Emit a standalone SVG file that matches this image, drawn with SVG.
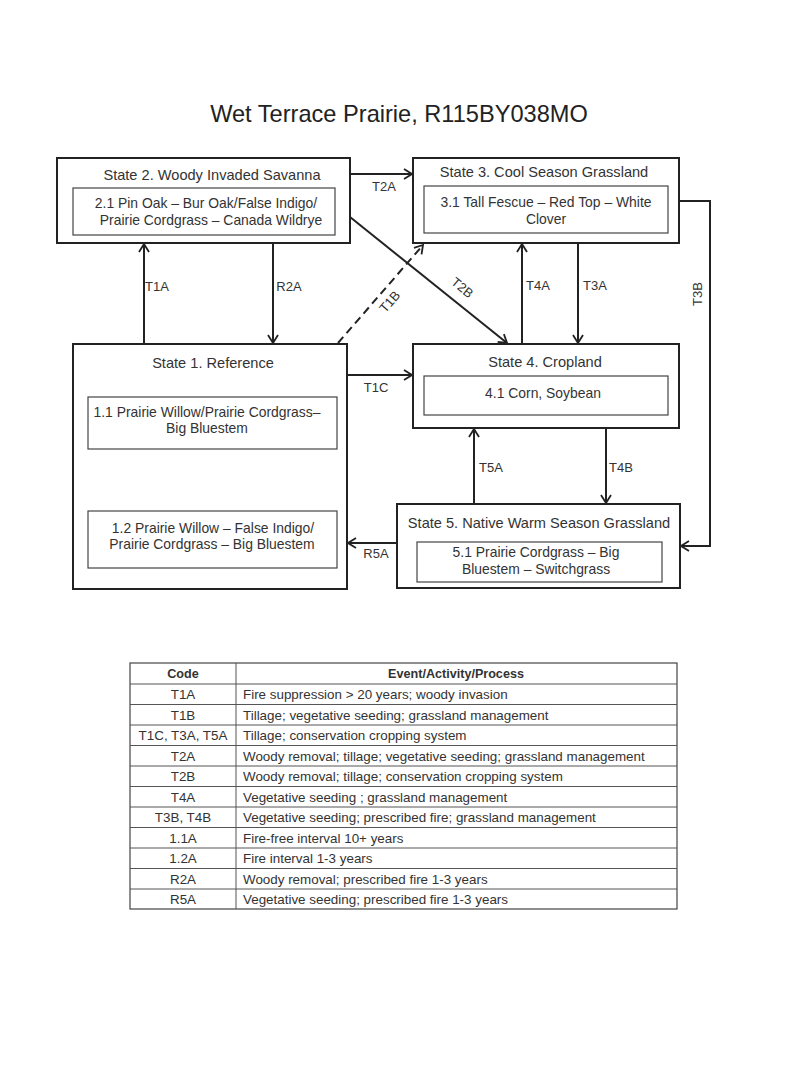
<svg xmlns="http://www.w3.org/2000/svg" width="800" height="1065" viewBox="0 0 800 1065">
<defs>
<style>
text{font-family:"Liberation Sans",Arial,sans-serif;fill:#333}
.title{font-size:23.6px;fill:#222;text-anchor:middle}
.st{font-size:14.6px;text-anchor:middle}
.in{font-size:13.9px;text-anchor:middle}
.lb{font-size:13px;text-anchor:middle}
.tb{font-size:13.4px}
.tc{font-size:13.4px;text-anchor:middle}
.th{font-size:12.6px;font-weight:bold;text-anchor:middle}
.outer{fill:#fff;stroke:#222;stroke-width:2}
.inner{fill:#fff;stroke:#444;stroke-width:1.2}
.c{fill:none;stroke:#222;stroke-width:2}
.cd{fill:none;stroke:#222;stroke-width:2;stroke-dasharray:8,5}
.ct{fill:none;stroke:#444;stroke-width:1.1}
.tl{stroke:#555;stroke-width:1}
</style>
<marker id="ah" viewBox="0 0 10 12" markerWidth="10" markerHeight="12" refX="9" refY="6" orient="auto" markerUnits="userSpaceOnUse">
<path d="M1,1 L9,6 L1,11" fill="none" stroke="#222" stroke-width="1.8"/>
</marker>
<marker id="ahs" viewBox="0 0 8 10" markerWidth="8" markerHeight="10" refX="7.5" refY="5" orient="auto" markerUnits="userSpaceOnUse">
<path d="M1,1 L7.5,5 L1,9" fill="none" stroke="#444" stroke-width="1.1"/>
</marker>
</defs>
<rect width="800" height="1065" fill="#fff"/>
<text class="title" x="399" y="122">Wet Terrace Prairie, R115BY038MO</text>

<g id="connectors">
<line class="c" x1="350" y1="174" x2="412" y2="174" marker-end="url(#ah)"/>
<line class="c" x1="144" y1="343" x2="144" y2="244" marker-end="url(#ah)"/>
<line class="c" x1="273" y1="243" x2="273" y2="343" marker-end="url(#ah)"/>
<line class="cd" x1="338" y1="343" x2="423" y2="245" marker-end="url(#ah)"/>
<line class="c" x1="350" y1="217" x2="507" y2="343" marker-end="url(#ah)"/>
<line class="c" x1="522" y1="343" x2="522" y2="244" marker-end="url(#ah)"/>
<line class="c" x1="578" y1="243" x2="578" y2="343" marker-end="url(#ah)"/>
<polyline class="c" points="679,201 710,201 710,546 681,546" marker-end="url(#ah)"/>
<line class="c" x1="347" y1="375" x2="412" y2="375" marker-end="url(#ah)"/>
<line class="c" x1="397" y1="543" x2="348" y2="543" marker-end="url(#ah)"/>
<line class="c" x1="474" y1="504" x2="474" y2="429" marker-end="url(#ah)"/>
<line class="c" x1="606" y1="428" x2="606" y2="503" marker-end="url(#ah)"/>
<line class="ct" x1="139" y1="511" x2="139" y2="450" marker-end="url(#ahs)"/>
<line class="ct" x1="288" y1="449" x2="288" y2="510" marker-end="url(#ahs)"/>
<text class="lb" x="384" y="191">T2A</text>
<text class="lb" x="157" y="291">T1A</text>
<text class="lb" x="289" y="291">R2A</text>
<text class="lb" transform="translate(390,302) rotate(-49)" x="0" y="4">T1B</text>
<text class="lb" transform="translate(462,288) rotate(39)" x="0" y="4">T2B</text>
<text class="lb" x="538" y="290">T4A</text>
<text class="lb" x="595" y="290">T3A</text>
<text class="lb" transform="translate(698,294) rotate(-90)" x="0" y="4">T3B</text>
<text class="lb" x="376" y="392">T1C</text>
<text class="lb" x="376" y="558">R5A</text>
<text class="lb" x="491" y="472">T5A</text>
<text class="lb" x="621" y="472">T4B</text>
<text class="lb" x="120" y="488">1.2A</text>
<text class="lb" x="305" y="488">1.1A</text>
</g>

<g id="state2">
<rect class="outer" x="57" y="158" width="293" height="85"/>
<text class="st" x="212" y="180">State 2. Woody Invaded Savanna</text>
<rect class="inner" x="73" y="188" width="262" height="47"/>
<text class="in" x="206" y="208">2.1 Pin Oak – Bur Oak/False Indigo/</text>
<text class="in" x="211" y="225">Prairie Cordgrass – Canada Wildrye</text>
</g>

<g id="state3">
<rect class="outer" x="413" y="158" width="266" height="85"/>
<text class="st" x="544" y="177">State 3. Cool Season Grassland</text>
<rect class="inner" x="424" y="186" width="244" height="47"/>
<text class="in" x="546" y="207">3.1 Tall Fescue – Red Top – White</text>
<text class="in" x="546" y="224">Clover</text>
</g>

<g id="state1">
<rect class="outer" x="73" y="344" width="274" height="245"/>
<text class="st" x="213" y="368">State 1. Reference</text>
<g id="phase11">
<rect class="inner" x="88" y="397" width="249" height="52"/>
<text class="in" x="207" y="417">1.1 Prairie Willow/Prairie Cordgrass–</text>
<text class="in" x="207" y="433">Big Bluestem</text>
</g>
<g id="phase12">
<rect class="inner" x="88" y="511" width="249" height="57"/>
<text class="in" x="213" y="533">1.2 Prairie Willow – False Indigo/</text>
<text class="in" x="212" y="549">Prairie Cordgrass – Big Bluestem</text>
</g>
</g>

<g id="state4">
<rect class="outer" x="413" y="344" width="266" height="84"/>
<text class="st" x="545" y="367">State 4. Cropland</text>
<rect class="inner" x="424" y="376" width="244" height="39"/>
<text class="in" x="543" y="398">4.1 Corn, Soybean</text>
</g>

<g id="state5">
<rect class="outer" x="397" y="504" width="283" height="84"/>
<text class="st" x="539" y="528">State 5. Native Warm Season Grassland</text>
<rect class="inner" x="417" y="542" width="245" height="40"/>
<text class="in" x="536" y="557">5.1 Prairie Cordgrass – Big</text>
<text class="in" x="536" y="574">Bluestem – Switchgrass</text>
</g>

<g id="legend-table">
<rect x="130" y="663" width="547" height="246" fill="#fff" stroke="#444" stroke-width="1.2"/>
<line class="tl" x1="236" y1="663" x2="236" y2="909"/>
<line class="tl" x1="130" y1="684" x2="677" y2="684"/>
<line class="tl" x1="130" y1="704.5" x2="677" y2="704.5"/>
<line class="tl" x1="130" y1="725" x2="677" y2="725"/>
<line class="tl" x1="130" y1="745.5" x2="677" y2="745.5"/>
<line class="tl" x1="130" y1="766" x2="677" y2="766"/>
<line class="tl" x1="130" y1="786.5" x2="677" y2="786.5"/>
<line class="tl" x1="130" y1="807" x2="677" y2="807"/>
<line class="tl" x1="130" y1="827.5" x2="677" y2="827.5"/>
<line class="tl" x1="130" y1="848" x2="677" y2="848"/>
<line class="tl" x1="130" y1="868.5" x2="677" y2="868.5"/>
<line class="tl" x1="130" y1="889" x2="677" y2="889"/>
<text class="th" x="183" y="678">Code</text>
<text class="th" x="456" y="678">Event/Activity/Process</text>
<text class="tc" x="183" y="699">T1A</text>
<text class="tb" x="243" y="699">Fire suppression &gt; 20 years; woody invasion</text>
<text class="tc" x="183" y="719.5">T1B</text>
<text class="tb" x="243" y="719.5">Tillage; vegetative seeding; grassland management</text>
<text class="tc" x="183" y="740">T1C, T3A, T5A</text>
<text class="tb" x="243" y="740">Tillage; conservation cropping system</text>
<text class="tc" x="183" y="760.5">T2A</text>
<text class="tb" x="243" y="760.5">Woody removal; tillage; vegetative seeding; grassland management</text>
<text class="tc" x="183" y="781">T2B</text>
<text class="tb" x="243" y="781">Woody removal; tillage; conservation cropping system</text>
<text class="tc" x="183" y="801.5">T4A</text>
<text class="tb" x="243" y="801.5">Vegetative seeding ; grassland management</text>
<text class="tc" x="183" y="822">T3B, T4B</text>
<text class="tb" x="243" y="822">Vegetative seeding; prescribed fire; grassland management</text>
<text class="tc" x="183" y="842.5">1.1A</text>
<text class="tb" x="243" y="842.5">Fire-free interval 10+ years</text>
<text class="tc" x="183" y="863">1.2A</text>
<text class="tb" x="243" y="863">Fire interval 1-3 years</text>
<text class="tc" x="183" y="883.5">R2A</text>
<text class="tb" x="243" y="883.5">Woody removal; prescribed fire 1-3 years</text>
<text class="tc" x="183" y="904">R5A</text>
<text class="tb" x="243" y="904">Vegetative seeding; prescribed fire 1-3 years</text>
</g>
</svg>
